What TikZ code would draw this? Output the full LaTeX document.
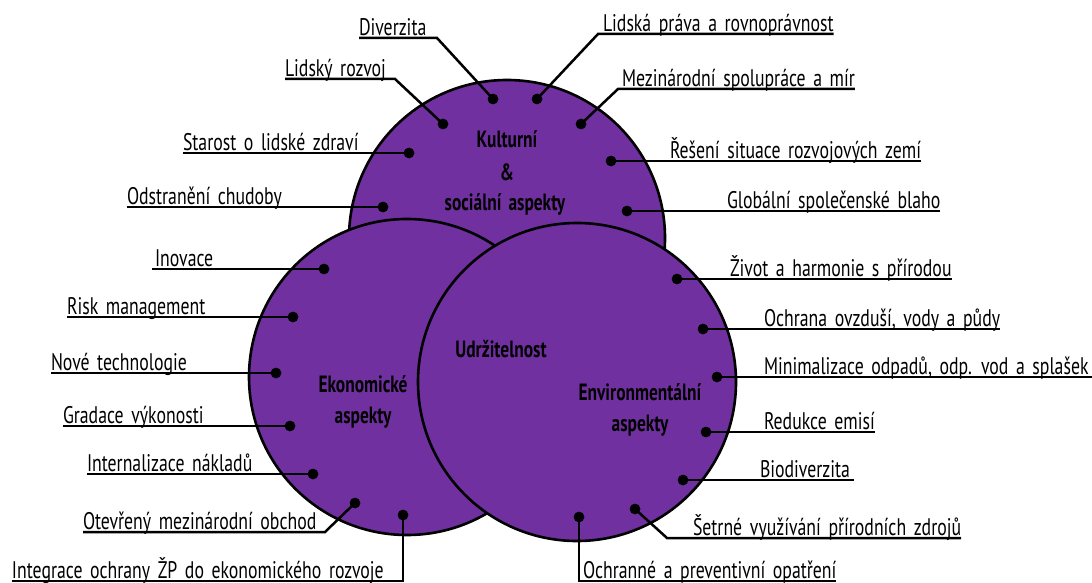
\documentclass[tikz,border=0pt]{standalone}
\usepackage{fontspec}
\setmainfont{PT Sans}[FakeStretch=0.74, WordSpace=1.6]
\definecolor{venn}{HTML}{7030A0}
\begin{document}
\begin{tikzpicture}[x=1pt,y=-1pt,
  ring/.style={circle, draw=black, line width=2.6pt, fill=venn, minimum size=#1, inner sep=0pt},
  pin/.style={circle, fill=black, minimum size=10.5pt, inner sep=0pt},
  leader/.style={line width=2.5pt, line join=miter},
  lbl/.style={anchor=base west, inner sep=0pt, outer sep=0pt, font=\fontsize{24}{26}\selectfont},
  head/.style={anchor=base, inner sep=0pt, font=\bfseries\fontsize{23.5}{26}\selectfont}]
\useasboundingbox (0,0) rectangle (1092,583);

% the three aspect circles
\node[ring=316pt] (kult) at (507,238) {};
\node[ring=316pt] (ekon) at (407,377) {};
\node[ring=318pt] (envi) at (577,382) {};

% circle headings
\node[head] (k1) at (507,147) {Kulturní};
\node[head] (k2) at (507,180) {\&};
\node[head] (k3) at (505,210) {sociální aspekty};
\node[head] (udr) at (501,357) {Udržitelnost};
\node[head] (e1) at (363,392) {Ekonomické};
\node[head] (e2) at (363,423) {aspekty};
\node[head] (v1) at (640,400) {Environmentální};
\node[head] (v2) at (640,431) {aspekty};

% labels
\node[lbl] (tDiv) at (359,35.5) {Diverzita};
\node[lbl] (tRoz) at (285,76.5) {Lidský rozvoj};
\node[lbl] (tZdr) at (183,150.5) {Starost o lidské zdraví};
\node[lbl] (tChu) at (127,204.5) {Odstranění chudoby};
\node[lbl] (tPra) at (603,31.5) {Lidská práva a rovnoprávnost};
\node[lbl] (tMir) at (622,86.5) {Mezinárodní spolupráce a mír};
\node[lbl] (tZem) at (670,158.5) {Řešení situace rozvojových zemí};
\node[lbl] (tBla) at (727,208.5) {Globální společenské blaho};

\node[lbl] (tIno) at (155,266.5) {Inovace};
\node[lbl] (tRis) at (67,314.5) {Risk management};
\node[lbl] (tTec) at (51,370.5) {Nové technologie};
\node[lbl] (tGra) at (63,423.5) {Gradace výkonosti};
\node[lbl] (tNak) at (87,471.5) {Internalizace nákladů};
\node[lbl] (tObc) at (83,529.5) {Otevřený mezinárodní obchod};
\node[lbl] (tInt) at (12,578.5) {Integrace ochrany ŽP do ekonomického rozvoje};

\node[lbl] (tZiv) at (730,276.5) {Život a harmonie s přírodou};
\node[lbl] (tOvz) at (764,326.5) {Ochrana ovzduší, vody a půdy};
\node[lbl] (tOdp) at (764,374.5) {Minimalizace odpadů, odp. vod a splašek};
\node[lbl] (tEmi) at (764,429.5) {Redukce emisí};
\node[lbl] (tBio) at (760,477.5) {Biodiverzita};
\node[lbl] (tSet) at (693,535.5) {Šetrné využívání přírodních zdrojů};
\node[lbl] (tOpa) at (583,578.5) {Ochranné a preventivní opatření};

% pins
\node[pin] (dDiv) at (493,99) {};
\node[pin] (dRoz) at (443,124) {};
\node[pin] (dZdr) at (409,153) {};
\node[pin] (dChu) at (383,207) {};
\node[pin] (dPra) at (537,99) {};
\node[pin] (dMir) at (581,124) {};
\node[pin] (dZem) at (611,161) {};
\node[pin] (dBla) at (627,211) {};

\node[pin] (dIno) at (324,269) {};
\node[pin] (dRis) at (293,317) {};
\node[pin] (dTec) at (276,373) {};
\node[pin] (dGra) at (290,426) {};
\node[pin] (dNak) at (313,474) {};
\node[pin] (dObc) at (355,503) {};
\node[pin] (dInt) at (403,515) {};

\node[pin] (dZiv) at (677,279) {};
\node[pin] (dOvz) at (703,329) {};
\node[pin] (dOdp) at (717,377) {};
\node[pin] (dEmi) at (706,432) {};
\node[pin] (dBio) at (683,480) {};
\node[pin] (dSet) at (635,509) {};
\node[pin] (dOpa) at (579,517) {};

% bends of the angled leaders
\coordinate (bDiv) at (437,38);
\coordinate (bRoz) at (395,79);
\coordinate (bPra) at (598,34);
\coordinate (bMir) at (618,89);
\coordinate (bObc) at (325,532);
\coordinate (bInt) at (403,581);
\coordinate (bSet) at (667,538);
\coordinate (bOpa) at (579,581);

% leaders with underlines
\draw[leader] (dDiv.center) -- (bDiv) -- (bDiv -| tDiv.west);
\draw[leader] (dRoz.center) -- (bRoz) -- (bRoz -| tRoz.west);
\draw[leader] (dZdr.center) -- (dZdr -| tZdr.west);
\draw[leader] (dChu.center) -- (dChu -| tChu.west);
\draw[leader] (dPra.center) -- (bPra) -- (bPra -| tPra.east);
\draw[leader] (dMir.center) -- (bMir) -- (bMir -| tMir.east);
\draw[leader] (dZem.center) -- (dZem -| tZem.east);
\draw[leader] (dBla.center) -- (dBla -| tBla.east);

\draw[leader] (dIno.center) -- ([xshift=-3pt]dIno -| tIno.west);
\draw[leader] (dRis.center) -- (dRis -| tRis.west);
\draw[leader] (dTec.center) -- (dTec -| tTec.west);
\draw[leader] (dGra.center) -- (dGra -| tGra.west);
\draw[leader] (dNak.center) -- (dNak -| tNak.west);
\draw[leader] (dObc.center) -- (bObc) -- (bObc -| tObc.west);
\draw[leader] (dInt.center) -- (bInt) -- (bInt -| tInt.west);

\draw[leader] (dZiv.center) -- (dZiv -| tZiv.east);
\draw[leader] (dOvz.center) -- (dOvz -| tOvz.east);
\draw[leader] (dOdp.center) -- ([xshift=6pt]dOdp -| tOdp.east);
\draw[leader] (dEmi.center) -- (dEmi -| tEmi.east);
\draw[leader] (dBio.center) -- ([xshift=4pt]dBio -| tBio.east);
\draw[leader] (dSet.center) -- (bSet) -- (bSet -| tSet.east);
\draw[leader] (dOpa.center) -- (bOpa) -- (bOpa -| tOpa.east);

% pins drawn again on top of the leaders
\foreach \p in {dDiv,dRoz,dZdr,dChu,dPra,dMir,dZem,dBla,dIno,dRis,dTec,dGra,dNak,dObc,dInt,dZiv,dOvz,dOdp,dEmi,dBio,dSet,dOpa}
  \fill (\p) circle (5.25pt);
\end{tikzpicture}
\end{document}
